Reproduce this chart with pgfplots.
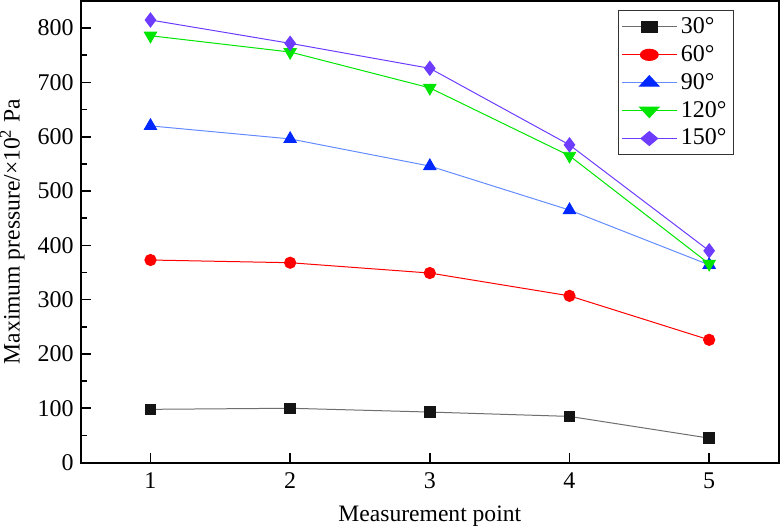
\documentclass[border=0pt]{standalone}
\usepackage{pgfplots}
\pgfplotsset{compat=1.18}
\usepackage{fontspec}
\setmainfont{Liberation Serif}
\definecolor{c30}{RGB}{20,20,20}
\definecolor{l30}{RGB}{110,110,110}
\definecolor{c60}{RGB}{255,0,0}
\definecolor{c90}{RGB}{0,40,255}
\definecolor{l90}{RGB}{100,140,255}
\definecolor{c120}{RGB}{0,230,0}
\definecolor{c150}{RGB}{110,60,255}
\begin{document}
\begin{tikzpicture}
\begin{axis}[
  scale only axis,
  width=349.5bp, height=231bp,
  xmin=0.5, xmax=5.5, ymin=0, ymax=850,
  xtick={1,2,3,4,5},
  ytick={0,100,...,800},
  minor y tick num=1,
  tick align=inside,
  xtick pos=left, ytick pos=left,
  major tick length=5bp, minor tick length=3bp,
  axis line style={line width=1bp},
  every tick/.style={line width=0.8bp, black},
  tick label style={font=\fontsize{12bp}{14bp}\selectfont},
  xticklabel style={yshift=-1.5bp},
  /pgf/number format/assume math mode=true,
  xlabel={Measurement point},
  ylabel={Maximum pressure/×10\textsuperscript{2} Pa},
  label style={font=\fontsize{11.8bp}{13bp}\selectfont, inner sep=0pt},
  xlabel style={yshift=-5bp},
  ylabel style={yshift=3bp},
  legend style={at={(0.9356,0.9805)}, anchor=north east, draw=black!80, line width=0.5bp,
    font=\fontsize{12bp}{14bp}\selectfont, row sep=0.5bp, inner sep=1.5bp},
  legend image post style={xscale=1.6},
  legend cell align=left,
  every axis plot/.append style={line width=0.5bp},
]
\addplot[l30, mark=square*, mark size=2.6bp, mark options={c30, fill=c30}] coordinates {(1,98) (2,100) (3,93) (4,85) (5,45)};
\addlegendentry{30°}
\addplot[c60, mark=*, mark size=2.8bp, mark options={c60, fill=c60}] coordinates {(1,373) (2,368) (3,349) (4,307) (5,226)};
\addlegendentry{60°}
\addplot[l90, mark=triangle*, mark size=3.5bp, mark options={c90, fill=c90}] coordinates {(1,620) (2,596) (3,546) (4,465) (5,364)};
\addlegendentry{90°}
\addplot[c120, mark=triangle*, mark size=3.5bp, mark options={c120, fill=c120, rotate=180}] coordinates {(1,786) (2,756) (3,690) (4,565) (5,366)};
\addlegendentry{120°}
\addplot[c150, mark=diamond*, mark size=3.5bp, mark options={c150, fill=c150}] coordinates {(1,815) (2,772) (3,726) (4,585) (5,390)};
\addlegendentry{150°}
\end{axis}
\end{tikzpicture}
\end{document}
